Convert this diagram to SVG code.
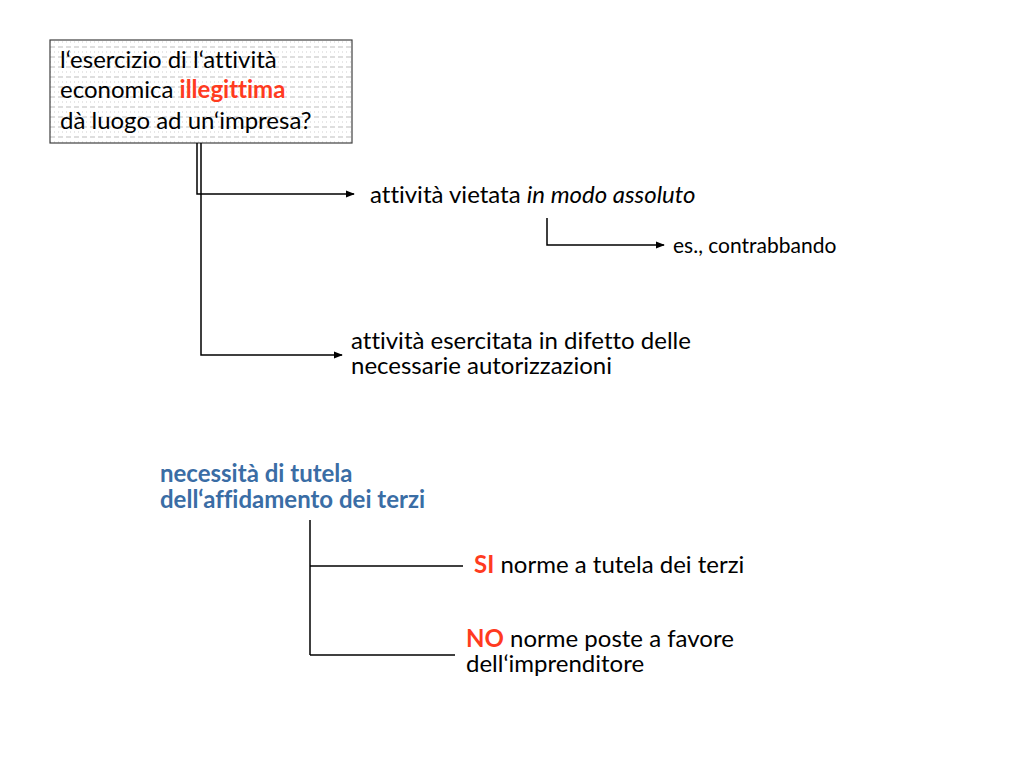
<svg xmlns="http://www.w3.org/2000/svg" width="1024" height="768" viewBox="0 0 1024 768">
<defs>
<pattern id="grid" x="50" y="40" width="8" height="10" patternUnits="userSpaceOnUse">
<line x1="0" y1="7" x2="5" y2="7" stroke="#bdbdbd" stroke-width="1"/>
<line x1="0" y1="2" x2="1" y2="2" stroke="#cfcfcf" stroke-width="1"/>
<line x1="4" y1="2" x2="5" y2="2" stroke="#cfcfcf" stroke-width="1"/>
</pattern>
<marker id="arr" viewBox="0 0 10 10" refX="9" refY="5" markerWidth="9" markerHeight="9" markerUnits="userSpaceOnUse" orient="auto">
<path d="M0,1 L10,5 L0,9 Z" fill="#000"/>
</marker>
</defs>
<style>
text{font-family:Lato,"Open Sans","Liberation Sans",sans-serif;fill:#000;font-variant-ligatures:none}
.t{font-size:24px}
.s{font-size:21px}
.blue{fill:#3A6DA5;font-weight:bold}
.red{fill:#FF3B1F;font-weight:bold}
.ln{stroke:#000;stroke-width:1.5;fill:none}
</style>
<rect width="1024" height="768" fill="#fff"/>
<g id="node-question">
<rect x="50" y="40" width="302" height="103" fill="#fff"/>
<rect x="50" y="40" width="302" height="103" fill="url(#grid)" stroke="#404040" stroke-width="1.2"/>
<text class="t" x="60" y="68">l‘esercizio di l‘attività</text>
<text class="t" x="60" y="98">economica <tspan class="red">illegittima</tspan></text>
<text class="t" x="60" y="129">dà luogo ad un‘impresa?</text>
</g>
<g id="connectors">
<polyline class="ln" points="197,143 197,194 354,194" marker-end="url(#arr)"/>
<polyline class="ln" points="201,143 201,355 342,355" marker-end="url(#arr)"/>
<polyline class="ln" points="547,218 547,245 664,245" marker-end="url(#arr)"/>
<line class="ln" x1="310" y1="520" x2="310" y2="655"/>
<line class="ln" x1="310" y1="566" x2="463" y2="566"/>
<line class="ln" x1="310" y1="655" x2="455" y2="655"/>
</g>
<g id="node-vietata">
<text class="t" x="370" y="203">attività vietata <tspan font-style="italic">in modo assoluto</tspan></text>
</g>
<g id="node-contrabbando">
<text class="s" x="673" y="253">es., contrabbando</text>
</g>
<g id="node-difetto">
<text class="t" x="351" y="349">attività esercitata in difetto delle</text>
<text class="t" x="351" y="374">necessarie autorizzazioni</text>
</g>
<g id="node-tutela">
<text class="t blue" x="160" y="482">necessità di tutela</text>
<text class="t blue" x="160" y="508">dell‘affidamento dei terzi</text>
</g>
<g id="node-si">
<text class="t" x="474" y="573"><tspan class="red">SI</tspan> norme a tutela dei terzi</text>
</g>
<g id="node-no">
<text class="t" x="466" y="647"><tspan class="red">NO</tspan> norme poste a favore</text>
<text class="t" x="466" y="672">dell‘imprenditore</text>
</g>
</svg>
